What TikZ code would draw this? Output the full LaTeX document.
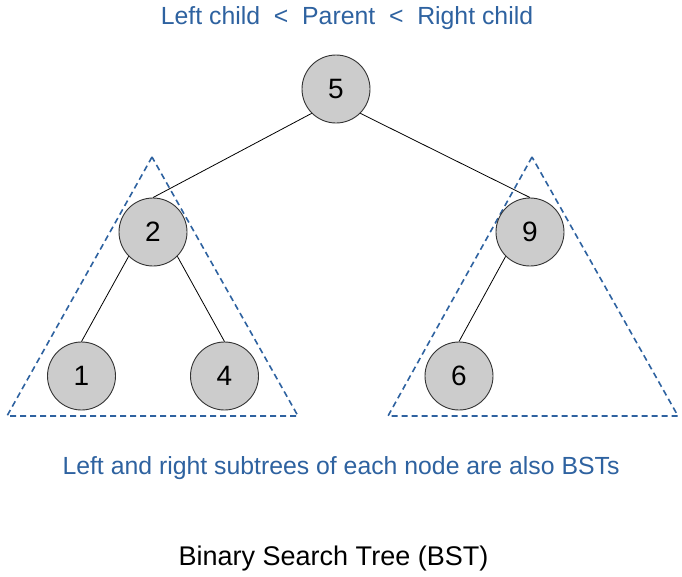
\documentclass[tikz,border=0pt]{standalone}
\usepackage{fontspec}
\setmainfont{Liberation Sans}
\definecolor{bstblue}{RGB}{46,98,160}
\definecolor{nodegray}{RGB}{204,204,204}
\begin{document}
\begin{tikzpicture}[x=1pt,y=-1pt,
  treenode/.style={circle,draw=black!80,fill=nodegray,line width=0.9pt,minimum size=68pt,inner sep=0pt,font=\fontsize{28}{32}\selectfont},
  edge/.style={draw=black,line width=0.8pt},
  subtree/.style={draw=bstblue,line width=1.6pt,dash pattern=on 6pt off 4pt},
  bluetext/.style={text=bstblue,font=\fontsize{24.8}{30}\selectfont,anchor=base,inner sep=0pt}]
\useasboundingbox (0,0) rectangle (682,576);
\fill[white] (0,0) rectangle (682,576);
% subtree triangles
\coordinate (la) at (152,157);
\coordinate (lb) at (7,416);
\coordinate (lc) at (298,416);
\coordinate (ra) at (532,157);
\coordinate (rb) at (388,416);
\coordinate (rc) at (678,416);
\draw[subtree] (la) -- (lb) -- (lc) -- cycle;
\draw[subtree] (ra) -- (rb) -- (rc) -- cycle;
% nodes
\node[treenode] (n5) at (336,89) {5};
\node[treenode] (n2) at (153,232) {2};
\node[treenode] (n9) at (530,232) {9};
\node[treenode] (n1) at (81.5,376) {1};
\node[treenode] (n4) at (224.5,376) {4};
\node[treenode] (n6) at (459,376) {6};
% edges
\draw[edge] (n5.south west) -- (n2.north);
\draw[edge] (n5.south east) -- (n9.north);
\draw[edge] (n2.south west) -- (n1.north);
\draw[edge] (n2.south east) -- (n4.north);
\draw[edge] (n9.south west) -- (n6.north);
% texts
\node[bluetext] (title) at (347,24) {Left child~~<~~Parent~~<~~Right child};
\node[bluetext] (note) at (341,474) {Left and right subtrees of each node are also BSTs};
\node[anchor=base,inner sep=0pt,font=\fontsize{27}{31}\selectfont] (caption) at (333.5,565) {Binary Search Tree (BST)};
\end{tikzpicture}
\end{document}
